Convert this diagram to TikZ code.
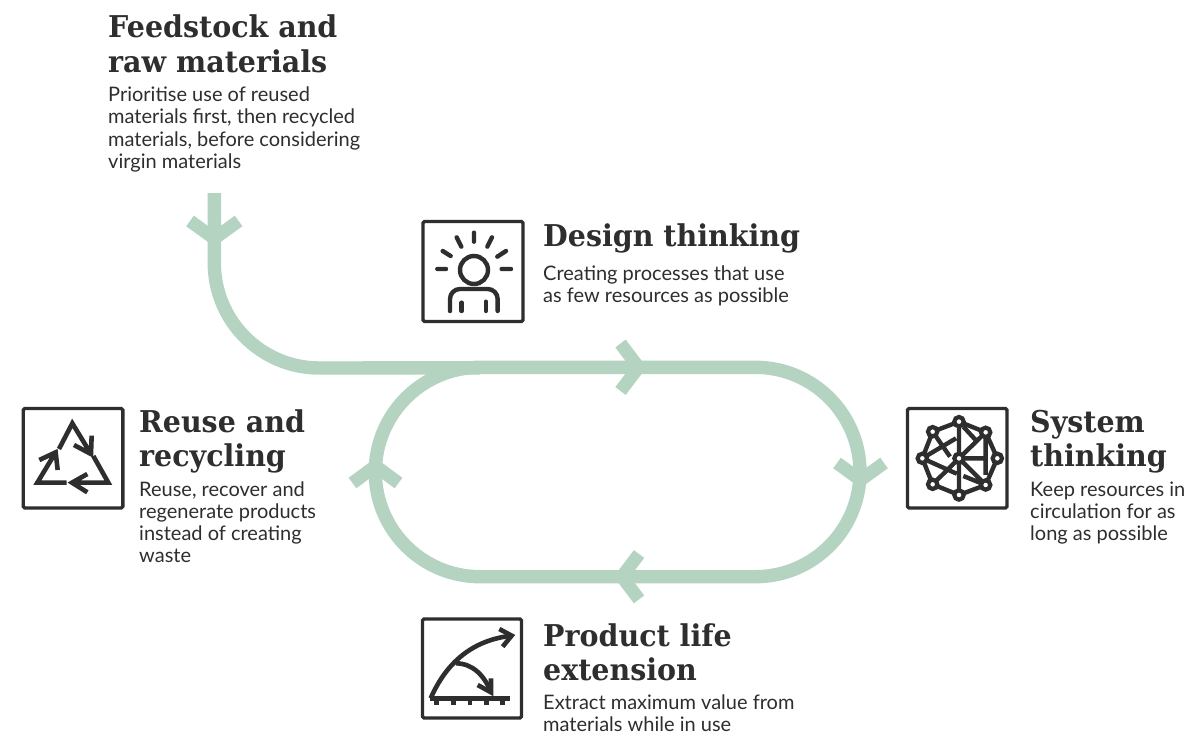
\documentclass[tikz,border=0pt]{standalone}
\usepackage{fontspec}
\setmainfont{Lato}
\newfontfamily\headfont[FakeStretch=0.95]{DejaVu Serif Bold}
\definecolor{flow}{HTML}{B5D3C1}
\definecolor{ink}{HTML}{2E2E2E}
\tikzset{
  flowline/.style={draw=flow,line width=13.4pt,line join=miter},
  chevron/.style={draw=flow,line width=13pt,line join=miter,miter limit=10},
  iconbox/.style={draw=ink,line width=3.4pt,rounded corners=1.5pt},
  iconline/.style={draw=ink,line width=4.4pt,line cap=round,line join=round},
  iconsharp/.style={draw=ink,line width=4.6pt,line cap=butt,line join=miter},
  netnode/.style={draw=ink,fill=white,line width=4.2pt},
  heading/.style={anchor=base west,inner sep=0pt,text=ink,font=\headfont\fontsize{30}{34}\selectfont},
  bodytext/.style={anchor=base west,inner sep=0pt,text=ink,font=\fontsize{20}{22}\selectfont},
}
\begin{document}
\begin{tikzpicture}[x=1pt,y=-1pt]
\useasboundingbox (0,0) rectangle (1189,736);
\fill[white] (0,0) rectangle (1189,736);
% flow lines
\coordinate (feedstart) at (214.3,193);
\coordinate (feedbend) at (214.3,263);
\coordinate (merge) at (480,367.8);
\coordinate (loopTL) at (480,367.3);
\coordinate (loopTR) at (755.3,367.3);
\coordinate (loopBR) at (755.3,576.7);
\coordinate (loopBL) at (480,576.7);
\draw[flowline] (feedstart) -- (feedbend) arc[start angle=180,end angle=270,x radius=105,y radius=-105] -- (merge);
\draw[flowline] (loopTL) -- (loopTR) arc[start angle=90,end angle=-90,x radius=104.7,y radius=-104.7] -- (loopBL) arc[start angle=-90,end angle=-270,x radius=104.7,y radius=-104.7] -- cycle;
% chevrons
\coordinate (c1a) at (190,221);\coordinate (c1b) at (214.3,238.5);\coordinate (c1c) at (238.6,221);
\draw[chevron] (c1a) -- (c1b) -- (c1c);
\coordinate (c2a) at (620.5,343.5);\coordinate (c2b) at (638.5,367.3);\coordinate (c2c) at (620.5,391);
\draw[chevron] (c2a) -- (c2b) -- (c2c);
\coordinate (c3a) at (837,463);\coordinate (c3b) at (860.5,480);\coordinate (c3c) at (884,463);
\draw[chevron] (c3a) -- (c3b) -- (c3c);
\coordinate (c4a) at (639,554);\coordinate (c4b) at (622,576.7);\coordinate (c4c) at (639,599.4);
\draw[chevron] (c4a) -- (c4b) -- (c4c);
\coordinate (c5a) at (352.5,483);\coordinate (c5b) at (375.5,466);\coordinate (c5c) at (398.5,483);
\draw[chevron] (c5a) -- (c5b) -- (c5c);
% boxes
\draw[iconbox] (423,221.5) rectangle (523,321.5);
\draw[iconbox] (907.5,408.5) rectangle (1007,508);
\draw[iconbox] (23.2,408.5) rectangle (122.8,508);
\draw[iconbox] (422.5,619) rectangle (521.5,718);
% design icon
\begin{scope}[shift={(400,200)},x=0.3333pt,y=-0.3333pt]
\draw[iconline] (222,98)--(222,125) (170,112)--(184,140) (276,112)--(262,140) (128,153)--(152,168) (318,153)--(292,170) (112,207)--(138,207) (305,207)--(333,207);
\draw[iconline] (222,210) circle[x radius=42,y radius=42];
\draw[iconline] (150,333)--(150,297) arc[start angle=180,end angle=90,x radius=30,y radius=-30] -- (263,267) arc[start angle=90,end angle=0,x radius=30,y radius=-30] -- (293,333);
\draw[iconline] (185,308)--(185,333) (258,305)--(258,333);
\end{scope}
% network icon
\begin{scope}[shift={(895,395)},x=0.3333pt,y=-0.3333pt]
\coordinate (nT) at (192,80);\coordinate (nUL) at (113,110);\coordinate (nUR) at (272,112);
\coordinate (nL) at (82,190);\coordinate (nC) at (192,190);\coordinate (nR) at (307,190);
\coordinate (nLL) at (113,268);\coordinate (nLR) at (272,270);\coordinate (nB) at (192,300);
\draw[iconline,line cap=butt] (nT)--(nUR)--(nR)--(nLR)--(nB)--(nLL)--(nL)--(nUL)--cycle;
\draw[iconline,line cap=butt] (nT)--(nB) (nC)--(275,190) (nUR)--(272,240) (nUR)--(nC)--(nLL) (nC)--(nLR) (nL)--(183,130) (nUL)--(165,185) (nL)--(185,236) (205,243)--(nLR) (205,95)--(242,135) ;
\foreach \n in {nT,nUL,nUR,nL,nC,nR,nLL,nLR,nB}
  \draw[netnode] (\n) circle[x radius=14,y radius=14];
\end{scope}
% recycle icon
\begin{scope}[shift={(10,395)},x=0.3333pt,y=-0.3333pt]
\draw[iconsharp] (147,162)--(187,85)--(243,177) (192,150)--(243,177)--(245,122);
\draw[iconsharp] (250,183)--(295,263)--(183,263) (232,237)--(186,263)--(232,292);
\draw[iconsharp] (170,263)--(82,263)--(137,172) (88,195)--(137,172)--(143,225);
\end{scope}
% product icon
\begin{scope}[shift={(410,605)},x=0.3333pt,y=-0.3333pt]
\draw[iconsharp] (60,280)--(300,280);
\foreach \tx in {80,130,180,230,278} \draw[iconsharp] (\tx,280)--(\tx,301);
\draw[iconsharp] (62,280) .. controls (110,170) and (190,105) .. (305,92);
\draw[iconsharp] (268,72)--(305,92)--(278,125);
\draw[iconsharp] (138,175) .. controls (190,175) and (225,215) .. (243,262);
\draw[iconsharp] (203,240)--(243,262)--(243,220);
\end{scope}
% text
\node[heading] (h1a) at (108,37) {Feedstock and};
\node[heading] (h1b) at (108,72) {raw materials};
\node[bodytext] (b1a) at (108,101) {Prioritise use of reused};
\node[bodytext] (b1b) at (108,123) {materials first, then recycled};
\node[bodytext] (b1c) at (108,146) {materials, before considering};
\node[bodytext] (b1d) at (108,168) {virgin materials};
\node[heading] (h2) at (543,246) {Design thinking};
\node[bodytext] (b2a) at (543,280) {Creating processes that use};
\node[bodytext] (b2b) at (543,302) {as few resources as possible};
\node[heading] (h3a) at (139,432) {Reuse and};
\node[heading] (h3b) at (139,466) {recycling};
\node[bodytext] (b3a) at (139,496) {Reuse, recover and};
\node[bodytext] (b3b) at (139,518) {regenerate products};
\node[bodytext] (b3c) at (139,540) {instead of creating};
\node[bodytext] (b3d) at (139,562) {waste};
\node[heading] (h4a) at (1030,432) {System};
\node[heading] (h4b) at (1030,466) {thinking};
\node[bodytext] (b4a) at (1030,496) {Keep resources in};
\node[bodytext] (b4b) at (1030,518) {circulation for as};
\node[bodytext] (b4c) at (1030,540) {long as possible};
\node[heading] (h5a) at (543,646) {Product life};
\node[heading] (h5b) at (543,680) {extension};
\node[bodytext] (b5a) at (543,709) {Extract maximum value from};
\node[bodytext] (b5b) at (543,731) {materials while in use};
\end{tikzpicture}
\end{document}
